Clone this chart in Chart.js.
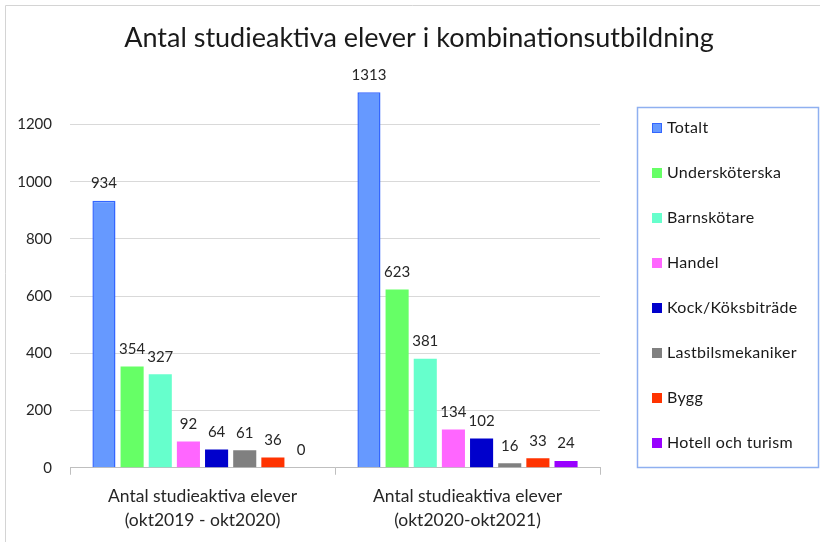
<!DOCTYPE html>
<html>
<head>
<meta charset="utf-8">
<script src="https://cdn.jsdelivr.net/npm/chart.js@4"></script>
<style>
  html, body { margin: 0; padding: 0; background: #fff; }
  #wrap { position: relative; width: 820px; height: 542px; }
</style>
</head>
<body>
<div id="wrap"><canvas id="chart" width="820" height="542"></canvas></div>
<script>
// data
const periods = [
    ['Antal studieaktiva elever', '(okt2019 - okt2020)'],
    ['Antal studieaktiva elever', '(okt2020-okt2021)']
]
const seriesNames = ['Totalt', 'Undersköterska', 'Barnskötare', 'Handel', 'Kock/Köksbiträde', 'Lastbilsmekaniker', 'Bygg', 'Hotell och turism']
const totalt = [934, 1313]
const underskoterska = [354, 623]
const barnskotare = [327, 381]
const handel = [92, 134]
const kock = [64, 102]
const lastbil = [61, 16]
const bygg = [36, 33]
const hotell = [0, 24]
const yTicks = [0, 200, 400, 600, 800, 1000, 1200]

const seriesValues = [totalt, underskoterska, barnskotare, handel, kock, lastbil, bygg, hotell]
const seriesColors = ['#6699ff', '#66ff66', '#66ffcc', '#ff66ff', '#0000cc', '#808080', '#ff3300', '#9900ff']

const fontFamily = 'Lato, "Liberation Sans", sans-serif'

// values on top of each bar
const valueLabels = {
    id: 'valueLabels',
    afterDatasetsDraw(chart) {
        let ctx = chart.ctx
        ctx.save()
        ctx.font = '15px ' + fontFamily
        ctx.fillStyle = '#262626'
        ctx.textAlign = 'center'
        ctx.textBaseline = 'bottom'
        chart.data.datasets.forEach((ds, i) => {
            let meta = chart.getDatasetMeta(i)
            meta.data.forEach((bar, j) => {
                ctx.fillText(ds.data[j], bar.x, bar.y - 10)
            })
        })
        ctx.restore()
    }
}

// legend in a framed box on the right, plus the thin outer frame
const boxLegend = {
    id: 'boxLegend',
    afterDraw(chart) {
        let ctx = chart.ctx
        ctx.save()

        ctx.strokeStyle = '#d4d4d4'
        ctx.lineWidth = 1
        ctx.beginPath()
        ctx.moveTo(5.5, 542)
        ctx.lineTo(5.5, 5.5)
        ctx.lineTo(820, 5.5)
        ctx.stroke()

        let left = 637, top = 107, width = 181, height = 360
        ctx.strokeStyle = '#8fb0f0'
        ctx.lineWidth = 1.5
        ctx.strokeRect(left + 0.5, top + 0.5, width, height)

        ctx.font = '16px ' + fontFamily
        ctx.letterSpacing = '0.3px'
        ctx.textBaseline = 'middle'
        ctx.textAlign = 'left'
        chart.data.datasets.forEach((ds, i) => {
            let y = 128 + i * 45
            ctx.fillStyle = ds.backgroundColor
            ctx.fillRect(652, y - 5, 10, 10)
            if (ds.borderWidth) {
                ctx.strokeStyle = ds.borderColor
                ctx.lineWidth = 1
                ctx.strokeRect(652.5, y - 4.5, 9, 9)
            }
            ctx.fillStyle = '#1a1a1a'
            ctx.fillText(ds.label, 667, y)
        })
        ctx.restore()
    }
}

const datasets = seriesNames.map((name, i) => ({
    label: name,
    data: seriesValues[i],
    backgroundColor: seriesColors[i],
    borderColor: i === 0 ? '#3366ff' : seriesColors[i],
    borderWidth: i === 0 ? 1.5 : 0,
    categoryPercentage: 0.85,
    barPercentage: 0.82
}))

new Chart(document.getElementById('chart'), {
    type: 'bar',
    data: { labels: periods, datasets: datasets },
    plugins: [valueLabels, boxLegend],
    options: {
        responsive: false,
        animation: false,
        layout: { padding: { left: 18, right: 0, top: 0, bottom: 0 } },
        plugins: {
            legend: { display: false },
            tooltip: { enabled: false },
            title: {
                display: true,
                text: 'Antal studieaktiva elever i kombinationsutbildning',
                color: '#1a1a1a',
                font: { family: fontFamily, size: 27, weight: 'normal' },
                padding: { top: 22, bottom: 13 }
            }
        },
        scales: {
            x: {
                grid: {
                    drawOnChartArea: false,
                    drawTicks: true,
                    tickLength: 7,
                    color: '#bfbfbf'
                },
                border: { color: '#bfbfbf' },
                ticks: {
                    color: '#262626',
                    font: { family: fontFamily, size: 17.5, lineHeight: 1.35 },
                    padding: 10
                }
            },
            y: {
                min: 0,
                max: 1400,
                afterBuildTicks(axis) {
                    axis.ticks = yTicks.map(v => ({ value: v }))
                },
                afterFit(axis) {
                    axis.width = 52
                },
                grid: {
                    color: '#d9d9d9',
                    drawTicks: false
                },
                border: { display: false },
                ticks: {
                    color: '#262626',
                    font: { family: fontFamily, size: 15 },
                    padding: 18,
                    callback: v => String(v)
                }
            },
            // empty right-hand axis that only keeps room for the legend box
            yRight: {
                position: 'right',
                afterFit(axis) {
                    axis.width = 220
                },
                grid: { display: false },
                border: { display: false },
                ticks: { display: false }
            }
        }
    }
})
</script>
</body>
</html>
